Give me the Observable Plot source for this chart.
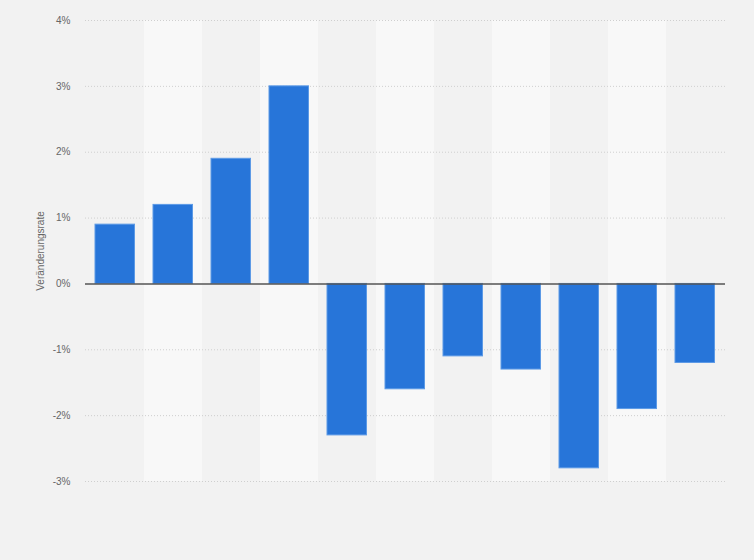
<!DOCTYPE html>
<html>
<head>
<meta charset="utf-8">
<script src="https://cdn.jsdelivr.net/npm/d3@7"></script>
<script src="https://cdn.jsdelivr.net/npm/@observablehq/plot@0.6"></script>
<style>
  html, body { margin: 0; padding: 0; background: #f2f2f2; }
  svg { display: block; }
</style>
</head>
<body>
<div id="chart"></div>
<script>
const categories = ["1", "2", "3", "4", "5", "6", "7", "8", "9", "10", "11"];
const values = [0.9, 1.2, 1.9, 3.0, -2.3, -1.6, -1.1, -1.3, -2.8, -1.9, -1.2];
const yTicks = [-3, -2, -1, 0, 1, 2, 3, 4];
const yLabel = "Veränderungsrate";

const data = categories.map((c, i) => ({category: c, value: values[i]}));
const bands = categories.filter((c, i) => i % 2 === 1);

const chart = Plot.plot({
  width: 754,
  height: 560,
  marginTop: 20,
  marginBottom: 79,
  marginLeft: 85,
  marginRight: 29,
  style: {background: "#f2f2f2", fontFamily: "Liberation Sans, Arial, sans-serif", fontSize: "10px", color: "#666"},
  x: {domain: categories, padding: 0, axis: null},
  y: {domain: [-3, 4], ticks: yTicks, tickFormat: d => d + "%", label: null},
  marks: [
    Plot.barY(bands, {x: d => d, y1: -3, y2: 4, fill: "#f8f8f8"}),
    Plot.ruleY(yTicks.filter(d => d !== 0), {stroke: "#cfcfcf", strokeDasharray: "1,2"}),
    Plot.axisY({ticks: yTicks, tickFormat: d => d + "%", tickSize: 0, tickPadding: 15, fill: "#666", label: null}),
    Plot.barY(data, {x: "category", y: "value", fill: "#2775d9", stroke: "#5c9ae6", strokeWidth: 1, insetLeft: 9, insetRight: 9.5}),
    Plot.ruleY([0], {stroke: "#555", strokeWidth: 1.5}),
    Plot.text([yLabel], {frameAnchor: "left", textAnchor: "middle", rotate: -90, dx: -45, fill: "#666", fontSize: 10})
  ]
});
document.getElementById("chart").appendChild(chart);
</script>
</body>
</html>
